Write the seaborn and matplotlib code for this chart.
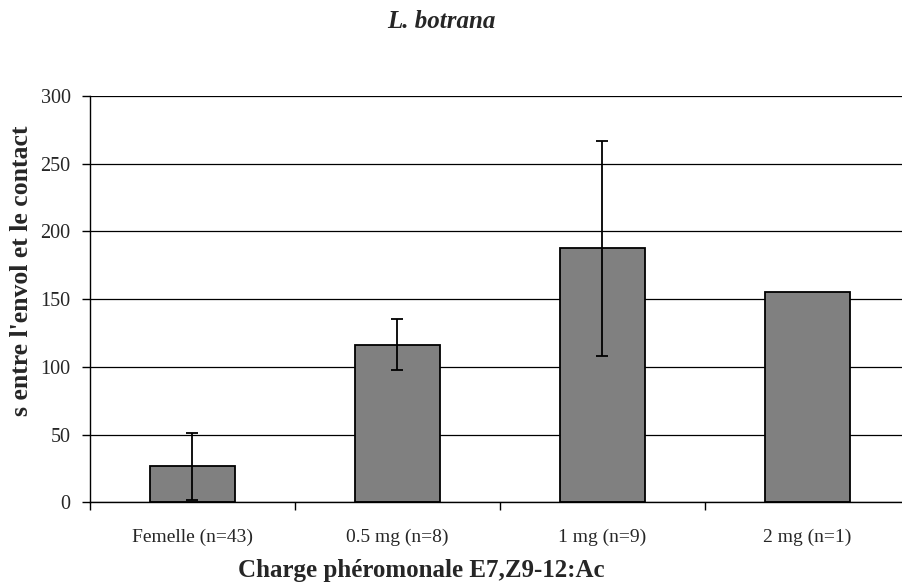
import matplotlib
matplotlib.use("Agg")
import matplotlib.pyplot as plt
import seaborn as sns
import pandas as pd
import numpy as np
from matplotlib.ticker import FixedLocator

# Mean flight-to-contact time per pheromone load, with error bars
categories = ["Femelle (n=43)", "0.5 mg (n=8)", "1 mg (n=9)", "2 mg (n=1)"]
means = [26.5, 116.5, 187.5, 155]
errors = [24.5, 18.5, 79.5, 0]
y_ticks = [0, 50, 100, 150, 200, 250, 300]

df = pd.DataFrame({"charge": categories, "temps": means})

sns.set_theme(style="white")
plt.rcParams["font.family"] = ["Liberation Serif", "DejaVu Serif"]

fig = plt.figure(figsize=(9.03, 5.88), dpi=100)
ax = fig.add_axes([90 / 903, 1 - 502.3 / 588, 820 / 903, (502.3 - 96) / 588])

sns.barplot(data=df, x="charge", y="temps", ax=ax, color="#808080",
            saturation=1, width=0.41, edgecolor="black", linewidth=1.3,
            errorbar=None, zorder=2)

xpos = np.arange(len(categories))
mask = np.array(errors) > 0
ax.errorbar(xpos[mask], np.array(means)[mask], yerr=np.array(errors)[mask],
            fmt="none", ecolor="black", elinewidth=1.3, capsize=4.5,
            capthick=1.3, zorder=3)

ax.set_xlim(-0.5, len(categories) - 0.5)
ax.set_ylim(0, 300)
ax.set_yticks(y_ticks)
ax.yaxis.grid(True, color="black", linewidth=0.9, zorder=0)
ax.set_axisbelow(True)

for side in ("top", "right"):
    ax.spines[side].set_visible(False)
for side in ("left", "bottom"):
    ax.spines[side].set_color("black")
    ax.spines[side].set_linewidth(1.0)

# category boundaries get the tick marks, labels sit at the centres
ax.xaxis.set_minor_locator(FixedLocator(np.arange(-0.5, len(categories), 1.0)))
ax.tick_params(axis="x", which="major", length=0, pad=19, labelsize=14)
ax.tick_params(axis="x", which="minor", length=6, width=1.0, color="black",
               direction="out", bottom=True)
ax.tick_params(axis="y", which="major", length=6, width=1.0, color="black",
               direction="out", left=True, pad=8, labelsize=14.5)

ax.set_xlabel("")
ax.set_ylabel("")
fig.text(421 / 903, 1 - 571 / 588, "Charge phéromonale E7,Z9-12:Ac",
         ha="center", va="center", fontsize=18, fontweight="bold")
fig.text(22 / 903, 1 - 271 / 588, "s entre l'envol et le contact", rotation=90,
         ha="center", va="center", fontsize=18.5, fontweight="bold")

fig.text(441.7 / 903, 1 - 21 / 588, "L. botrana", ha="center", va="center",
         fontsize=18, fontweight="bold", fontstyle="italic")

fig.savefig("out.png", dpi=100, facecolor="white")
